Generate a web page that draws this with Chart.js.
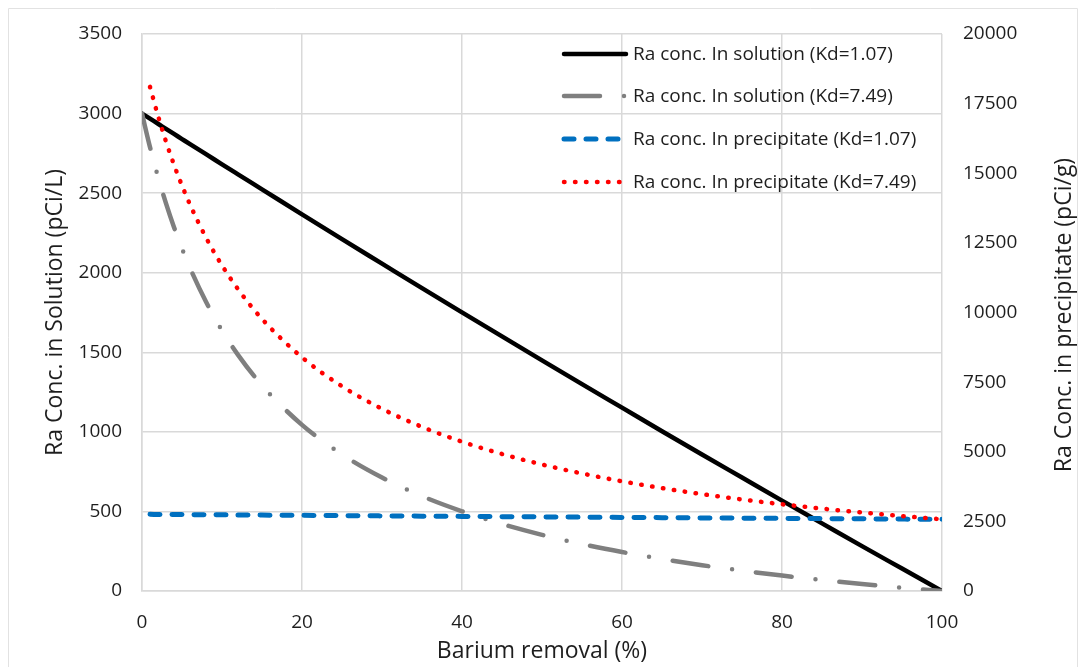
<!DOCTYPE html>
<html>
<head>
<meta charset="utf-8">
<script src="https://cdn.jsdelivr.net/npm/chart.js@4.4.1/dist/chart.umd.min.js"></script>
<style>
  body { margin: 0; background: #fff; }
  #wrap { width: 1085px; height: 667px; }
</style>
</head>
<body>
<div id="wrap"><canvas id="raChart" width="1085" height="667"></canvas></div>
<script>
// Barium removal (%) on the x axis
const removal = [0, 1, 2, 3, 4, 5, 6, 8, 10, 12, 15, 20, 25, 30, 35, 40, 45, 50, 55, 60, 65, 70, 75, 80, 85, 90, 95, 100];

// left axis, pCi/L
const solutionKd107 = [3000, 2968, 2936, 2904, 2872, 2840, 2808, 2745, 2681, 2618, 2524, 2367, 2211, 2057, 1903, 1751, 1600, 1449, 1300, 1152, 1004, 858, 713, 568, 425, 282, 141, 0];
const solutionKd749 = [3000, 2789, 2602, 2436, 2286, 2152, 2030, 1817, 1637, 1484, 1292, 1044, 858, 713, 596, 501, 421, 353, 295, 245, 201, 162, 128, 97, 69, 44, 21, 0];

// right axis, pCi/g (no value at 0 % removal)
const precipKd107 = [null, 2752, 2750, 2748, 2746, 2744, 2742, 2739, 2735, 2731, 2725, 2716, 2707, 2697, 2688, 2679, 2670, 2661, 2652, 2643, 2634, 2625, 2617, 2608, 2599, 2591, 2582, 2574];
const precipKd749 = [null, 18104, 17064, 16137, 15306, 14556, 13876, 12690, 11691, 10838, 9769, 8390, 7351, 6542, 5893, 5361, 4918, 4542, 4219, 3939, 3694, 3478, 3286, 3114, 2958, 2818, 2691, 2574];

const seriesLabels = [
  "Ra conc. In solution (Kd=1.07)",
  "Ra conc. In solution (Kd=7.49)",
  "Ra conc. In precipitate (Kd=1.07)",
  "Ra conc. In precipitate (Kd=7.49)"
];
const xTicks = [0, 20, 40, 60, 80, 100];

const FONT = "'Open Sans', 'DejaVu Sans', sans-serif";
const TEXT = "#1e1e1e";
const GRID = "#d9d9d9";

function toPoints(values) {
  return removal.map((x, i) => ({ x: x, y: values[i] }));
}

const lineStyles = [
  { color: "#000000", width: 4.5, dash: [] },
  { color: "#7f7f7f", width: 4.5, dash: [36, 24, 0, 24] },
  { color: "#0070c0", width: 5, dash: [10, 12] },
  { color: "#ff0000", width: 4.5, dash: [0.5, 10.5] }
];
const seriesData = [solutionKd107, solutionKd749, precipKd107, precipKd749];
const seriesAxis = ["y", "y", "y1", "y1"];

const datasets = seriesData.map((vals, i) => ({
  label: seriesLabels[i],
  data: toPoints(vals),
  yAxisID: seriesAxis[i],
  borderColor: lineStyles[i].color,
  backgroundColor: lineStyles[i].color,
  borderWidth: lineStyles[i].width,
  borderDash: lineStyles[i].dash,
  borderCapStyle: "round",
  borderJoinStyle: "round",
  pointRadius: 0,
  cubicInterpolationMode: "monotone",
  spanGaps: false,
  order: 4 - i // later series on top, like the original
}));

const plain = v => String(v);

// legend inside the plot + frame + right axis title
const extras = {
  id: "extras",
  beforeDraw(chart) {
    const c = chart.ctx;
    c.save();
    c.strokeStyle = "#e2e2e2";
    c.lineWidth = 1;
    c.beginPath();
    c.moveTo(8.5, 667);
    c.lineTo(8.5, 8.5);
    c.lineTo(1077.5, 8.5);
    c.lineTo(1077.5, 667);
    c.stroke();
    c.restore();
  },
  afterDraw(chart) {
    const c = chart.ctx;
    c.save();
    // legend
    const x0 = 564, x1 = 626;
    const rows = [54, 96, 139, 182];
    c.font = "19px " + FONT;
    c.textBaseline = "middle";
    c.textAlign = "left";
    rows.forEach((y, i) => {
      const st = lineStyles[i];
      c.strokeStyle = st.color;
      c.lineWidth = st.width;
      c.lineCap = "round";
      c.setLineDash(st.dash);
      c.beginPath();
      c.moveTo(x0, y);
      c.lineTo(x1, y);
      c.stroke();
      c.setLineDash([]);
      c.fillStyle = TEXT;
      c.fillText(seriesLabels[i], 633, y + 1);
    });
    // right axis title, reading bottom to top
    c.translate(1064, 315);
    c.rotate(-Math.PI / 2);
    c.textAlign = "center";
    c.font = "23px " + FONT;
    c.fillStyle = TEXT;
    c.fillText("Ra Conc. in precipitate (pCi/g)", 0, 0);
    c.restore();
  }
};

const ctx = document.getElementById("raChart").getContext("2d");

new Chart(ctx, {
  type: "line",
  data: { datasets: datasets },
  options: {
    responsive: false,
    animation: false,
    layout: { padding: { top: 34, left: 0, right: 0, bottom: 0 } },
    plugins: {
      legend: { display: false },
      tooltip: { enabled: false }
    },
    scales: {
      x: {
        type: "linear",
        min: 0,
        max: 100,
        afterBuildTicks: s => { s.ticks = xTicks.map(v => ({ value: v })); },
        grid: { color: GRID, lineWidth: 1.5, drawTicks: false },
        border: { color: GRID, width: 1.5 },
        ticks: { color: TEXT, font: { family: FONT, size: 19 }, padding: 20, maxRotation: 0, callback: plain },
        title: {
          display: true,
          text: "Barium removal (%)",
          color: TEXT,
          font: { family: FONT, size: 23 },
          padding: { top: 0, bottom: 2 }
        },
        afterFit: s => { s.height = 76; }
      },
      y: {
        position: "left",
        min: 0,
        max: 3500,
        ticks: { stepSize: 500, color: TEXT, font: { family: FONT, size: 19 }, padding: 20, callback: plain },
        grid: { color: GRID, lineWidth: 1.5, drawTicks: false },
        border: { color: GRID, width: 1.5 },
        title: {
          display: true,
          text: "Ra Conc. in Solution (pCi/L)",
          color: TEXT,
          font: { family: FONT, size: 23 },
          padding: { top: 42, bottom: 0 }
        },
        afterFit: s => { s.width = 142; }
      },
      y1: {
        position: "right",
        min: 0,
        max: 20000,
        ticks: { stepSize: 2500, color: TEXT, font: { family: FONT, size: 19 }, padding: 21, callback: plain },
        grid: { drawOnChartArea: false, drawTicks: false },
        border: { display: false },
        afterFit: s => { s.width = 143; }
      }
    }
  },
  plugins: [extras]
});
</script>
</body>
</html>
